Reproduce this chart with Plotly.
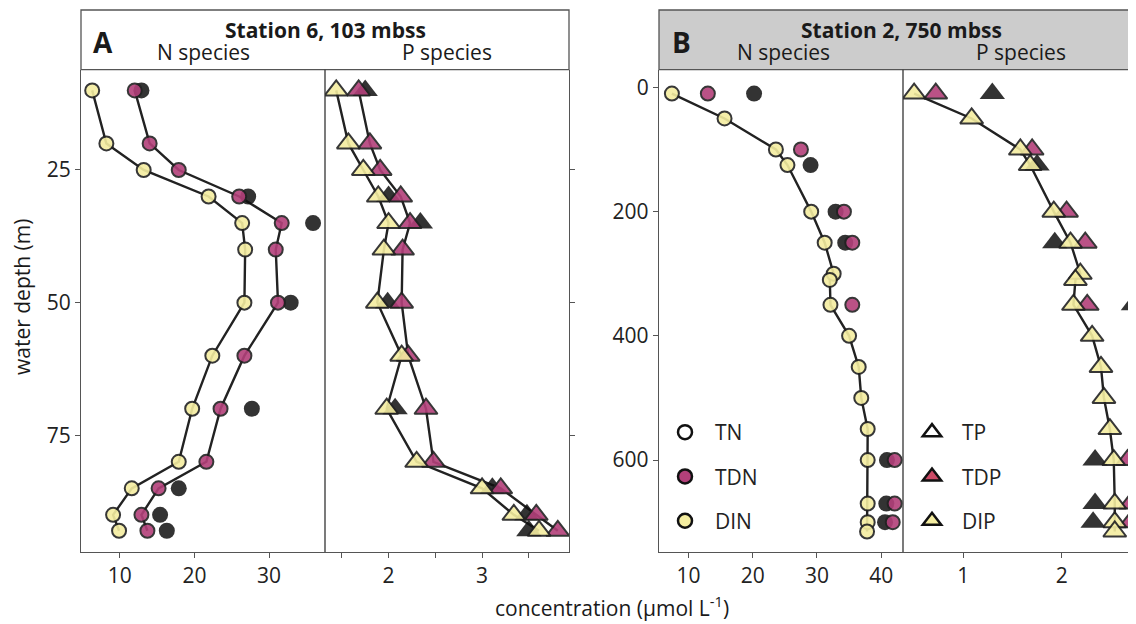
import plotly.graph_objects as go

# ---------------- data ----------------
# Station 6 (panel A)
depth_a = [10, 20, 25, 30, 35, 40, 50, 60, 70, 80, 85, 90, 93]
din_a = [6.3, 8.2, 13.2, 21.9, 26.4, 26.8, 26.7, 22.4, 19.7, 17.9, 11.6, 9.1, 9.9]
tdn_a = [12.0, 14.0, 17.9, 26.0, 31.7, 30.9, 31.2, 26.7, 23.5, 21.6, 15.2, 12.9, 13.7]
tn_a = [12.9, None, None, 27.2, 35.9, None, 32.9, None, 27.7, None, 17.9, 15.4, 16.3]
dip_a = [1.44, 1.57, 1.73, 1.89, 2.00, 1.95, 1.88, 2.14, 1.98, 2.30, 3.00, 3.34, 3.61]
tdp_a = [1.68, 1.80, 1.91, 2.13, 2.23, 2.15, 2.14, 2.21, 2.40, 2.48, 3.20, 3.58, 3.81]
tp_a = [1.75, None, None, 2.00, 2.34, None, 1.99, None, 2.07, None, 3.11, 3.48, 3.50]

# Station 2 (panel B)
depth_b = [10, 50, 100, 125, 200, 250, 300, 310, 350, 400, 450, 500, 550, 600, 670, 700, 715]
din_b = [7.4, 15.6, 23.6, 25.4, 29.1, 31.2, 32.6, 32.0, 32.1, 35.0, 36.5, 36.9, 37.9, 37.9, 37.9, 37.9, 37.8]
tdn_b = [13.0, None, 27.5, None, 34.2, 35.5, None, None, 35.5, None, None, None, None, 42.1, 42.1, 41.8, None]
tn_b = [20.2, None, None, 29.0, 32.9, 34.4, None, None, None, None, None, None, None, 40.9, 40.8, 40.6, None]
dip_b = [0.50, 1.085, 1.58, 1.68, 1.92, 2.09, 2.19, 2.14, 2.12, 2.31, 2.40, 2.43, 2.49, 2.53, 2.54, 2.54, 2.54]
tdp_b = [0.72, None, 1.70, None, 2.05, 2.24, None, None, 2.26, None, None, None, None, 2.67, 2.70, 2.70, None]
tp_b = [1.295, None, None, 1.75, None, 1.93, None, None, 2.73, None, None, None, None, 2.34, 2.34, 2.32, None]

n_labels = ["TN", "TDN", "DIN"]
p_labels = ["TP", "TDP", "DIP"]

# ---------------- styles ----------------
OFF = 8                     # page body margin
W, H = 1136 - OFF, 624 - OFF
FONT = "Open Sans"
LINE_C = "#222222"
AX_C = "#555555"
C_TOT = "rgba(15,15,15,0.85)"
C_TD = "#b3407a"
C_DI = "#f4eda0"
C_TDP_LEG = "#cc4a66"
FS = 21

def px_x(p):
    return (p - OFF) / W

def px_y(p):
    return 1 - (p - OFF) / H

left_a, mid_a, right_a = 81, 325, 569
left_b, mid_b = 659, 903
top_p, bot_p = 69.7, 552
strip_top = 10

fig = go.Figure()

def add_panel(xa, ya, depth, di, td, tot, symbol, size, connect_td):
    fig.add_trace(go.Scatter(x=di, y=depth, mode="lines", line=dict(color=LINE_C, width=2.4),
                             xaxis=xa, yaxis=ya, showlegend=False, hoverinfo="skip"))
    if connect_td:
        fig.add_trace(go.Scatter(x=td, y=depth, mode="lines", line=dict(color=LINE_C, width=2.4),
                                 xaxis=xa, yaxis=ya, showlegend=False, hoverinfo="skip", connectgaps=True))
    fig.add_trace(go.Scatter(x=tot, y=depth, mode="markers",
                             marker=dict(symbol=symbol, size=size + 2, color=C_TOT, line=dict(width=0)),
                             xaxis=xa, yaxis=ya, showlegend=False))
    fig.add_trace(go.Scatter(x=td, y=depth, mode="markers",
                             marker=dict(symbol=symbol, size=size, color=C_TD, opacity=0.9,
                                         line=dict(width=2, color=LINE_C)),
                             xaxis=xa, yaxis=ya, showlegend=False))
    fig.add_trace(go.Scatter(x=di, y=depth, mode="markers",
                             marker=dict(symbol=symbol, size=size, color=C_DI, opacity=0.9,
                                         line=dict(width=2, color=LINE_C)),
                             xaxis=xa, yaxis=ya, showlegend=False))

add_panel("x", "y", depth_a, din_a, tdn_a, tn_a, "circle", 14, True)
add_panel("x2", "y2", depth_a, dip_a, tdp_a, tp_a, "triangle-up", 20, True)
add_panel("x3", "y3", depth_b, din_b, tdn_b, tn_b, "circle", 14, False)
add_panel("x4", "y4", depth_b, dip_b, tdp_b, tp_b, "triangle-up", 20, False)

# legend key traces
leg_n_colors = ["white", C_TD, C_DI]
leg_p_colors = ["white", C_TDP_LEG, C_DI]
for i, (lab, col) in enumerate(zip(n_labels, leg_n_colors)):
    fig.add_trace(go.Scatter(x=[None], y=[None], mode="markers", name=lab, legend="legend",
                             legendgroup="n" + str(i),
                             marker=dict(symbol="circle", size=14, color=col, line=dict(width=2.5, color="#111")),
                             xaxis="x3", yaxis="y3"))
for i, (lab, col) in enumerate(zip(p_labels, leg_p_colors)):
    fig.add_trace(go.Scatter(x=[None], y=[None], mode="markers", name=lab, legend="legend2",
                             legendgroup="p" + str(i),
                             marker=dict(symbol="triangle-up", size=16, color=col, line=dict(width=2.5, color="#111")),
                             xaxis="x4", yaxis="y4"))

tick_font = dict(family=FONT, size=FS, color="#222")
base_ax = dict(showgrid=False, zeroline=False, showline=True, linecolor=AX_C, linewidth=1.3,
               ticks="outside", ticklen=5, tickwidth=1.3, tickcolor=AX_C, tickfont=tick_font)

ydom = [px_y(bot_p), px_y(top_p)]

fig.update_layout(
    width=W, height=H, margin=dict(l=0, r=0, t=0, b=0),
    paper_bgcolor="white", plot_bgcolor="white",
    font=dict(family=FONT, color="#222"),
    xaxis=dict(base_ax, domain=[px_x(left_a), px_x(mid_a)], range=[4.8, 37.5], anchor="y",
               tickvals=[10, 20, 30]),
    yaxis=dict(base_ax, domain=ydom, range=[97, 6.1], anchor="x", tickvals=[25, 50, 75]),
    xaxis2=dict(base_ax, domain=[px_x(mid_a), px_x(right_a)], range=[1.32, 3.93], anchor="y2",
                tickvals=[2, 3],
                minor=dict(tickvals=[1.5, 2.5, 3.5], ticks="outside", ticklen=5, tickwidth=1.3,
                           tickcolor=AX_C, showgrid=False)),
    yaxis2=dict(base_ax, domain=ydom, range=[97, 6.1], anchor="x2", side="right",
                tickvals=[25, 50, 75], showticklabels=False),
    xaxis3=dict(base_ax, domain=[px_x(left_b), px_x(mid_b)], range=[5.39, 43.4], anchor="y3",
                tickvals=[10, 20, 30, 40]),
    yaxis3=dict(base_ax, domain=ydom, range=[748, -28.5], anchor="x3", tickvals=[0, 200, 400, 600]),
    xaxis4=dict(base_ax, domain=[px_x(mid_b), 1.0], range=[0.387, 2.756], anchor="y4",
                tickvals=[1, 2, 3]),
    yaxis4=dict(base_ax, domain=ydom, range=[748, -28.5], anchor="x4", showline=False,
                ticks="", showticklabels=False),
    legend=dict(x=px_x(655), y=px_y(412), xanchor="left", yanchor="top", bgcolor="rgba(0,0,0,0)",
                font=dict(family=FONT, size=FS, color="#222"), tracegroupgap=14, itemwidth=50),
    legend2=dict(x=px_x(902), y=px_y(412), xanchor="left", yanchor="top", bgcolor="rgba(0,0,0,0)",
                 font=dict(family=FONT, size=FS, color="#222"), tracegroupgap=14, itemwidth=50),
)

shapes = [
    dict(type="rect", xref="paper", yref="paper", x0=px_x(left_a), x1=px_x(right_a),
         y0=px_y(top_p), y1=px_y(strip_top), fillcolor="white", line=dict(color=AX_C, width=1.3)),
    dict(type="rect", xref="paper", yref="paper", x0=px_x(left_b), x1=1.01,
         y0=px_y(top_p), y1=px_y(strip_top), fillcolor="#cccccc", line=dict(color=AX_C, width=1.3)),
    dict(type="line", xref="paper", yref="paper", x0=px_x(mid_a), x1=px_x(mid_a),
         y0=px_y(bot_p), y1=px_y(top_p), line=dict(color="#333", width=1.3)),
    dict(type="line", xref="paper", yref="paper", x0=px_x(mid_b), x1=px_x(mid_b),
         y0=px_y(bot_p), y1=px_y(top_p), line=dict(color="#333", width=1.3)),
]
fig.update_layout(shapes=shapes)

def ann(text, x, y, size=FS, bold=False, **kw):
    t = "<b>%s</b>" % text if bold else text
    d = dict(text=t, x=px_x(x), y=px_y(y), xref="paper", yref="paper", showarrow=False,
             font=dict(family=FONT, size=size, color="#1a1a1a"), xanchor="center", yanchor="middle")
    d.update(kw)
    return d

annotations = [
    ann("A", 103, 42, size=28, bold=True),
    ann("Station 6, 103 mbss", 325, 30, size=21, bold=True),
    ann("N species", 203, 52),
    ann("P species", 447, 52),
    ann("B", 681, 42, size=28, bold=True),
    ann("Station 2, 750 mbss", 901, 30, size=21, bold=True),
    ann("N species", 783, 52),
    ann("P species", 1021, 52),
    ann("water depth (m)", 22, 297, textangle=-90),
    ann("concentration (µmol L<sup>-1</sup>)", 612, 606),
]
fig.update_layout(annotations=annotations)

fig.write_html("out.html")
